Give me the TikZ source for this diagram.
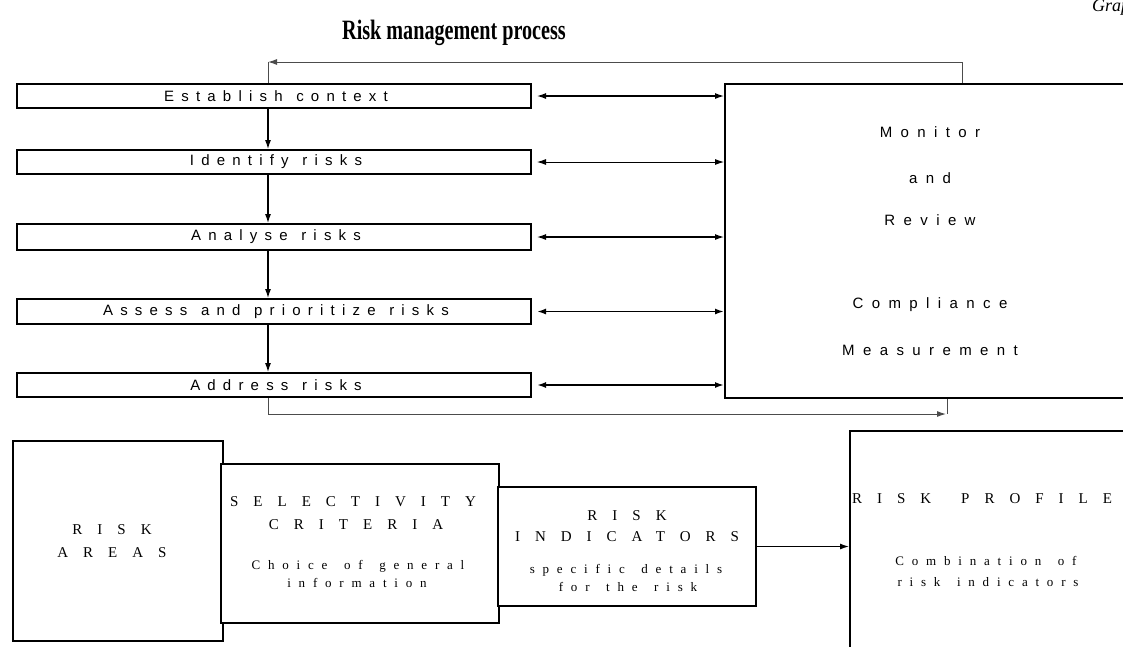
\documentclass[tikz,border=0pt]{standalone}
\usepackage{fontspec}
\setmainfont{Liberation Serif}
\newfontfamily\lsans[LetterSpace=48,WordSpace=1.2]{Liberation Sans}
\newfontfamily\msans[LetterSpace=56]{Liberation Sans}
\newfontfamily\capserif[LetterSpace=100,WordSpace=1.6]{Liberation Serif}
\newfontfamily\lowserif[LetterSpace=60,WordSpace=1.5]{Liberation Serif}
\usetikzlibrary{arrows.meta}
\tikzset{
  box/.style={draw=black, line width=2pt, inner sep=0pt, fill=white},
  stepbox/.style={box, minimum width=514pt},
  steptext/.style={font=\lsans\fontsize{15}{17}\selectfont, inner sep=0pt},
  montext/.style={font=\msans\fontsize{15}{17}\selectfont, inner sep=0pt},
  captext/.style={font=\capserif\fontsize{15}{17}\selectfont, inner sep=0pt},
  lowtext/.style={font=\lowserif\fontsize{13}{15}\selectfont, inner sep=0pt},
  tip/.style={-{Latex[length=9pt,width=6pt]}},
  dtip/.style={{Latex[length=9pt,width=6pt]}-{Latex[length=9pt,width=6pt]}},
  flow/.style={tip, line width=1.1pt},
  link/.style={dtip, line width=1.2pt},
  fback/.style={line width=1pt, draw=black!70},
}
\begin{document}
\begin{tikzpicture}[x=1pt,y=-1pt]
\useasboundingbox (0,0) rectangle (1123,646);

% title and corner text
\node[inner sep=0pt, font=\bfseries\fontsize{28}{30}\selectfont, xscale=0.72] (title) at (454,33) {Risk management process};
\node[inner sep=0pt, anchor=base west, font=\itshape\fontsize{18}{20}\selectfont] (corner) at (1092,11) {Graph};

% process steps
\node[stepbox, minimum height=24pt] (est) at (274,96) {};
\node[stepbox, minimum height=24pt] (ide) at (274,162) {};
\node[stepbox, minimum height=26pt] (ana) at (274,237) {};
\node[stepbox, minimum height=25pt] (ass) at (274,311.5) {};
\node[stepbox, minimum height=24pt] (adr) at (274,385) {};
\node[steptext] (estt) at (276,96) {Establish context};
\node[steptext] (idet) at (276,162) {Identify risks};
\node[steptext] (anat) at (276,237) {Analyse risks};
\node[steptext] (asst) at (276,311.5) {Assess and prioritize risks};
\node[steptext] (adrt) at (276,385) {Address risks};

% monitor box
\node[box, minimum width=420pt, minimum height=314pt, anchor=north west] (mon) at (724,83) {};
\node[montext] (m1) at (930,132) {Monitor};
\node[montext] (m2) at (930,178) {and};
\node[montext] (m3) at (930,220) {Review};
\node[montext] (m4) at (930,305) {Compliance};
\node[montext] (m5) at (930,350) {Measurement};

% flow arrows
\coordinate (cx) at (268,0);
\draw[flow] (est.south -| cx) -- (ide.north -| cx);
\draw[flow] (ide.south -| cx) -- (ana.north -| cx);
\draw[flow] (ana.south -| cx) -- (ass.north -| cx);
\draw[flow] (ass.south -| cx) -- (adr.north -| cx);

% links to monitor
\draw[link] ([xshift=5pt]est.east) -- (est.east -| mon.west);
\draw[link, line width=0.9pt] ([xshift=5pt]ide.east) -- (ide.east -| mon.west);
\draw[link] ([xshift=5pt]ana.east) -- (ana.east -| mon.west);
\draw[link, line width=1.7pt] ([xshift=5pt]ass.east) -- (ass.east -| mon.west);
\draw[link, line width=1.7pt] ([xshift=5pt]adr.east) -- (adr.east -| mon.west);

% feedback loops
\coordinate (topc) at (268,62);
\coordinate (monx) at (962,0);
\draw[fback, tip] (mon.north -| monx) |- (topc);
\draw[fback] (topc) -- (est.north -| cx);
\coordinate (botc) at (946,414);
\coordinate (mbx) at (947,0);
\draw[fback, tip] (adr.south -| cx) |- (botc);
\draw[fback] (mon.south -| mbx) -- (mbx |- botc);

% bottom boxes
\node[box, minimum width=210pt, minimum height=200pt, anchor=north west] (areas) at (12,440) {};
\node[box, minimum width=278pt, minimum height=159pt, anchor=north west] (sel) at (220,463) {};
\node[box, minimum width=258pt, minimum height=119pt, anchor=north west] (ind) at (497,486) {};
\node[box, minimum width=290pt, minimum height=230pt, anchor=north west] (prof) at (849,430) {};

\node[captext] (a1) at (112,530) {RISK};
\node[captext] (a2) at (112,553) {AREAS};
\node[captext] (s1) at (353,502) {SELECTIVITY};
\node[captext] (s2) at (356,525) {CRITERIA};
\node[lowtext] (s3) at (358,566) {Choice of general};
\node[lowtext] (s4) at (357,583) {information};
\node[captext] (i1) at (627,516) {RISK};
\node[captext] (i2) at (627,537) {INDICATORS};
\node[lowtext] (i3) at (626,570) {specific details};
\node[lowtext] (i4) at (628,587) {for the risk};
\node[captext] (p1) at (982,499) {RISK PROFILE};
\node[lowtext] (p2) at (986,561) {Combination of};
\node[lowtext] (p3) at (988,582) {risk indicators};

\draw[flow, line width=1.2pt] (ind.east) -- (prof.west |- ind.east);
\end{tikzpicture}
\end{document}
